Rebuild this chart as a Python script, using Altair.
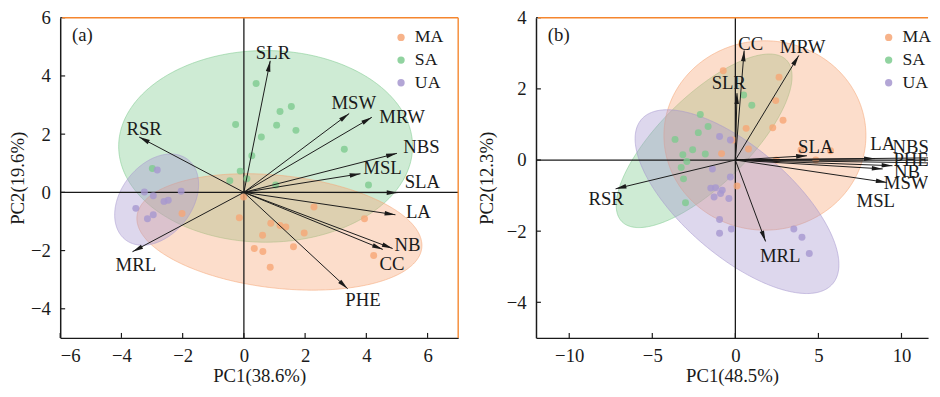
import altair as alt
import numpy as np
import pandas as pd

FONT = "Liberation Serif"
FS = 19
GROUPS = ["MA", "SA", "UA"]
COLORS = ["#F6A676", "#7ECB8F", "#A697CF"]
BORDER = "#F5862E"
INK = "#1a1a1a"
HEAD = "M0,0L-0.42,2L0.42,2Z"

# ---------------- panel (a) ----------------
a_xtitle = "PC1(38.6%)"
a_ytitle = "PC2(19.6%)"
a_xdom = [-6, 7]
a_ydom = [-5, 6]
a_xticks = [-6, -4, -2, 0, 2, 4, 6]
a_yticks = [-4, -2, 0, 2, 4, 6]

a_ma_x = [-2.02, -0.01, 2.29, 3.94, -0.15, 0.88, 1.18, 1.37, 1.97, 0.61, 0.34, 0.62, 1.62, 4.24, 0.86]
a_ma_y = [-0.73, -0.16, -0.50, -0.91, -0.87, -1.06, -1.14, -1.19, -1.40, -1.47, -1.93, -2.03, -1.87, -2.17, -2.57]
a_sa_x = [0.40, 1.55, 1.18, -0.27, 1.07, 1.70, 0.57, 3.28, 0.26, -0.12, 4.07, -2.99, -0.46, 0.10, 1.04]
a_sa_y = [3.74, 2.95, 2.78, 2.33, 2.31, 2.13, 1.90, 1.48, 1.26, 0.73, 0.25, 0.82, 0.40, 0.47, 0.25]
a_ua_x = [-2.83, -3.25, -2.96, -2.05, -2.61, -2.47, -3.53, -2.96, -3.15]
a_ua_y = [0.77, 0.01, -0.12, 0.04, -0.31, -0.27, -0.55, -0.77, -0.91]

a_vars = ["SLR", "MSW", "MRW", "NBS", "MSL", "SLA", "LA", "NB", "CC", "PHE", "MRL", "RSR"]
a_tip_x = [0.86, 3.44, 4.18, 5.00, 3.81, 5.02, 4.95, 4.86, 4.54, 3.39, -3.64, -3.42]
a_tip_y = [4.52, 2.71, 2.58, 1.34, 0.64, -0.01, -0.77, -1.93, -1.96, -3.31, -2.04, 1.90]
a_lab_x = [0.95, 3.59, 5.17, 5.80, 4.53, 5.83, 5.70, 5.34, 4.84, 3.89, -3.53, -3.26]
a_lab_y = [4.80, 3.08, 2.58, 1.54, 0.83, 0.35, -0.69, -1.81, -2.47, -3.71, -2.51, 2.19]

# confidence ellipses: centre x, centre y, semi-axis 1, semi-axis 2, tilt (deg)
a_ell_ma = (1.16, -1.36, 4.68, 1.84, -6.4)
a_ell_sa = (0.71, 1.58, 4.80, 3.13, 0.0)
a_ell_ua = (-2.85, -0.25, 1.66, 1.16, 52.0)

# ---------------- panel (b) ----------------
b_xtitle = "PC1(48.5%)"
b_ytitle = "PC2(12.3%)"
b_xdom = [-12, 11.6]
b_ydom = [-5, 4]
b_xticks = [-10, -5, 0, 5, 10]
b_yticks = [-4, -2, 0, 2, 4]

b_ma_x = [-0.73, 2.63, 2.43, 2.87, 2.25, 0.65, -0.14, 0.79, 3.95, 5.73, 4.84, 2.47, -0.83, 0.10]
b_ma_y = [2.51, 2.33, 1.67, 1.12, 0.91, 0.89, 0.56, 0.31, 0.28, 0.26, 0.00, 0.00, 0.18, -0.73]
b_sa_x = [0.50, 0.99, -2.11, -1.64, -2.23, -3.63, -2.57, -3.16, -1.81, -2.92, -3.26, -3.12, -3.00]
b_sa_y = [1.83, 1.54, 1.28, 0.94, 0.77, 0.58, 0.29, 0.15, 0.17, -0.04, -0.21, -0.53, -1.20]
b_ua_x = [-0.95, -0.30, -1.38, -0.30, -1.48, -0.79, -1.19, -0.89, -1.28, -0.39, -0.95, -0.24, -0.95, 3.52, 4.01, 4.45]
b_ua_y = [0.66, 0.56, -0.25, -0.48, -0.79, -0.85, -0.78, -0.94, -1.04, -1.08, -1.67, -1.94, -2.06, -1.94, -2.17, -2.63]

b_vars = ["CC", "SLR", "MRW", "SLA", "LA", "NBS", "PHE", "NB", "MSL", "MSW", "RSR", "MRL"]
b_tip_x = [0.53, 0.10, 3.82, 4.31, 8.40, 12.0, 12.0, 9.46, 8.87, 9.11, -7.21, 1.82]
b_tip_y = [3.08, 1.88, 2.94, 0.12, 0.04, 0.06, -0.08, -0.16, -0.25, -0.63, -0.81, -2.29]
b_lab_x = [0.93, -0.39, 4.05, 4.84, 8.87, 10.55, 10.58, 10.33, 8.45, 10.28, -7.78, 2.70]
b_lab_y = [3.27, 2.17, 3.17, 0.37, 0.46, 0.35, 0.00, -0.34, -1.15, -0.65, -1.10, -2.70]

b_ell_ma = (1.78, 0.69, 6.08, 5.70, 0.0)
b_ell_sa = (-1.88, 0.54, 6.94, 2.67, 44.5)
b_ell_ua = (0.10, -1.17, 7.59, 3.26, -40.7)


def ellipse_band(p, k, n=181):
    cx, cy, a, b, ang = p
    t = np.radians(ang)
    A = (np.cos(t) / a) ** 2 + (np.sin(t) / b) ** 2
    B = 2 * np.cos(t) * np.sin(t) * (1 / a ** 2 - 1 / b ** 2)
    C = (np.sin(t) / a) ** 2 + (np.cos(t) / b) ** 2
    umax = np.sqrt(4 * C / (4 * A * C - B ** 2))
    u = -umax * np.cos(np.linspace(0, np.pi, n))
    disc = np.clip(B ** 2 * u ** 2 - 4 * C * (A * u ** 2 - 1), 0, None)
    v1 = (-B * u - np.sqrt(disc)) / (2 * C)
    v2 = (-B * u + np.sqrt(disc)) / (2 * C)
    return cx + u, cy + v1 / k, cy + v2 / k


def panel(tag, pts, ells, arrows, xdom, ydom, xticks, yticks, xtitle, ytitle,
          W, H, ytitle_pad, legend_x, right_border):
    sx = W / (xdom[1] - xdom[0])
    sy = H / (ydom[1] - ydom[0])
    k = sy / sx
    xs = alt.Scale(domain=xdom, nice=False, zero=False, clamp=True)
    ys = alt.Scale(domain=ydom, nice=False, zero=False, clamp=True)
    xaxis = alt.Axis(values=xticks, titlePadding=1, labelPadding=9)
    yaxis = alt.Axis(values=yticks, titlePadding=ytitle_pad, labelPadding=10)

    def X(f):
        return alt.X(f + ":Q", scale=xs, axis=xaxis, title=xtitle)

    def Y(f):
        return alt.Y(f + ":Q", scale=ys, axis=yaxis, title=ytitle)

    rows = []
    for g in ["SA", "MA", "UA"]:
        ex, ey1, ey2 = ellipse_band(ells[g], k)
        col = COLORS[GROUPS.index(g)]
        for xx, a1, a2 in zip(ex, ey1, ey2):
            rows.append({"group": g, "fc": col, "x": xx, "y": a1, "y2": a2})
    ell_df = pd.DataFrame(rows)
    ell_layer = alt.Chart(ell_df).mark_area(
        fillOpacity=0.38, strokeOpacity=0.55, strokeWidth=1, clip=True
    ).encode(
        x=X("x"), y=Y("y"), y2="y2:Q",
        fill=alt.Fill("fc:N", scale=None),
        stroke=alt.Stroke("fc:N", scale=None),
        detail="group:N",
    )

    vline = alt.Chart(pd.DataFrame({"x": [0]})).mark_rule(color=INK, strokeWidth=1.3).encode(x=X("x"))
    hline = alt.Chart(pd.DataFrame({"y": [0]})).mark_rule(color=INK, strokeWidth=1.3).encode(y=Y("y"))

    prow = []
    for g in GROUPS:
        for xx, yy in zip(pts[g][0], pts[g][1]):
            prow.append({"group": g, "x": xx, "y": yy})
    pts_df = pd.DataFrame(prow)
    point_layer = alt.Chart(pts_df).mark_circle(size=50, opacity=0.8).encode(
        x=X("x"), y=Y("y"),
        color=alt.Color(
            "group:N",
            scale=alt.Scale(domain=GROUPS, range=COLORS),
            legend=alt.Legend(
                title=None, orient="none", legendX=legend_x, legendY=11,
                symbolType="circle", symbolSize=55, symbolOpacity=0.85,
                symbolStrokeWidth=0, labelFont=FONT, labelFontSize=18,
                labelColor=INK, labelOffset=5, rowPadding=5, padding=0,
            ),
        ),
    )

    names, tx, ty, lx, ly = arrows
    arr = pd.DataFrame({"var": names, "x": tx, "y": ty, "lx": lx, "ly": ly})
    arr["x0"] = 0.0
    arr["y0"] = 0.0
    arr["ang"] = np.degrees(np.arctan2(arr["x"] * sx, arr["y"] * sy)) % 360
    arr["inside"] = (arr["x"] <= xdom[1]).astype(int)
    arrow_lines = alt.Chart(arr).mark_rule(color=INK, strokeWidth=1, clip=True).encode(
        x=X("x0"), y=Y("y0"), x2="x:Q", y2="y:Q"
    )
    heads = alt.Chart(arr).transform_filter("datum.inside == 1").mark_point(
        shape=HEAD, size=121, filled=True, color=INK, opacity=1, strokeWidth=0, clip=True
    ).encode(x=X("x"), y=Y("y"), angle=alt.Angle("ang:Q", scale=None))
    labels = alt.Chart(arr).mark_text(
        font=FONT, fontSize=FS, color=INK, clip=True
    ).encode(x=X("lx"), y=Y("ly"), text="var:N")

    xt = alt.Chart(pd.DataFrame({"x": xticks})).mark_rule(color=INK, strokeWidth=1.2).encode(
        x=X("x"), y=alt.value(H), y2=alt.value(H - 5)
    )
    yt = alt.Chart(pd.DataFrame({"y": yticks})).mark_rule(color=INK, strokeWidth=1.2).encode(
        y=Y("y"), x=alt.value(0), x2=alt.value(5)
    )

    one = pd.DataFrame({"a": [0]})
    top = alt.Chart(one).mark_rule(color=BORDER, strokeWidth=1.4).encode(
        x=alt.value(2), x2=alt.value(W), y=alt.value(0)
    )
    layers = [ell_layer, vline, hline, point_layer, arrow_lines, heads, labels, xt, yt, top]
    if right_border:
        layers.append(alt.Chart(one).mark_rule(color=BORDER, strokeWidth=1.4).encode(
            x=alt.value(W), y=alt.value(0), y2=alt.value(H)))
    tag_layer = alt.Chart(one).mark_text(
        font=FONT, fontSize=FS, color=INK, align="left", baseline="middle"
    ).encode(x=alt.value(12), y=alt.value(18), text=alt.value(tag))
    layers.append(tag_layer)
    return alt.layer(*layers).properties(width=W, height=H)


left = panel(
    "(a)",
    {"MA": (a_ma_x, a_ma_y), "SA": (a_sa_x, a_sa_y), "UA": (a_ua_x, a_ua_y)},
    {"MA": a_ell_ma, "SA": a_ell_sa, "UA": a_ell_ua},
    (a_vars, a_tip_x, a_tip_y, a_lab_x, a_lab_y),
    a_xdom, a_ydom, a_xticks, a_yticks, a_xtitle, a_ytitle,
    404, 325, 3, 337, True,
)
right = panel(
    "(b)",
    {"MA": (b_ma_x, b_ma_y), "SA": (b_sa_x, b_sa_y), "UA": (b_ua_x, b_ua_y)},
    {"MA": b_ell_ma, "SA": b_ell_sa, "UA": b_ell_ua},
    (b_vars, b_tip_x, b_tip_y, b_lab_x, b_lab_y),
    b_xdom, b_ydom, b_xticks, b_yticks, b_xtitle, b_ytitle,
    398, 325, 10, 349, False,
)

chart = alt.hconcat(left, right, spacing=18).resolve_scale(
    color="independent"
).configure_view(stroke=None).configure_axis(
    labelFont=FONT, labelFontSize=FS, labelColor=INK,
    titleFont=FONT, titleFontSize=FS, titleFontWeight="normal", titleColor=INK,
    domainColor=INK, domainWidth=1.5, ticks=False, tickSize=0, grid=False,
).properties(padding={"left": 0, "top": -2, "right": 0, "bottom": 0})

chart.save("out.html", embed_options={"renderer": "svg", "actions": False})
